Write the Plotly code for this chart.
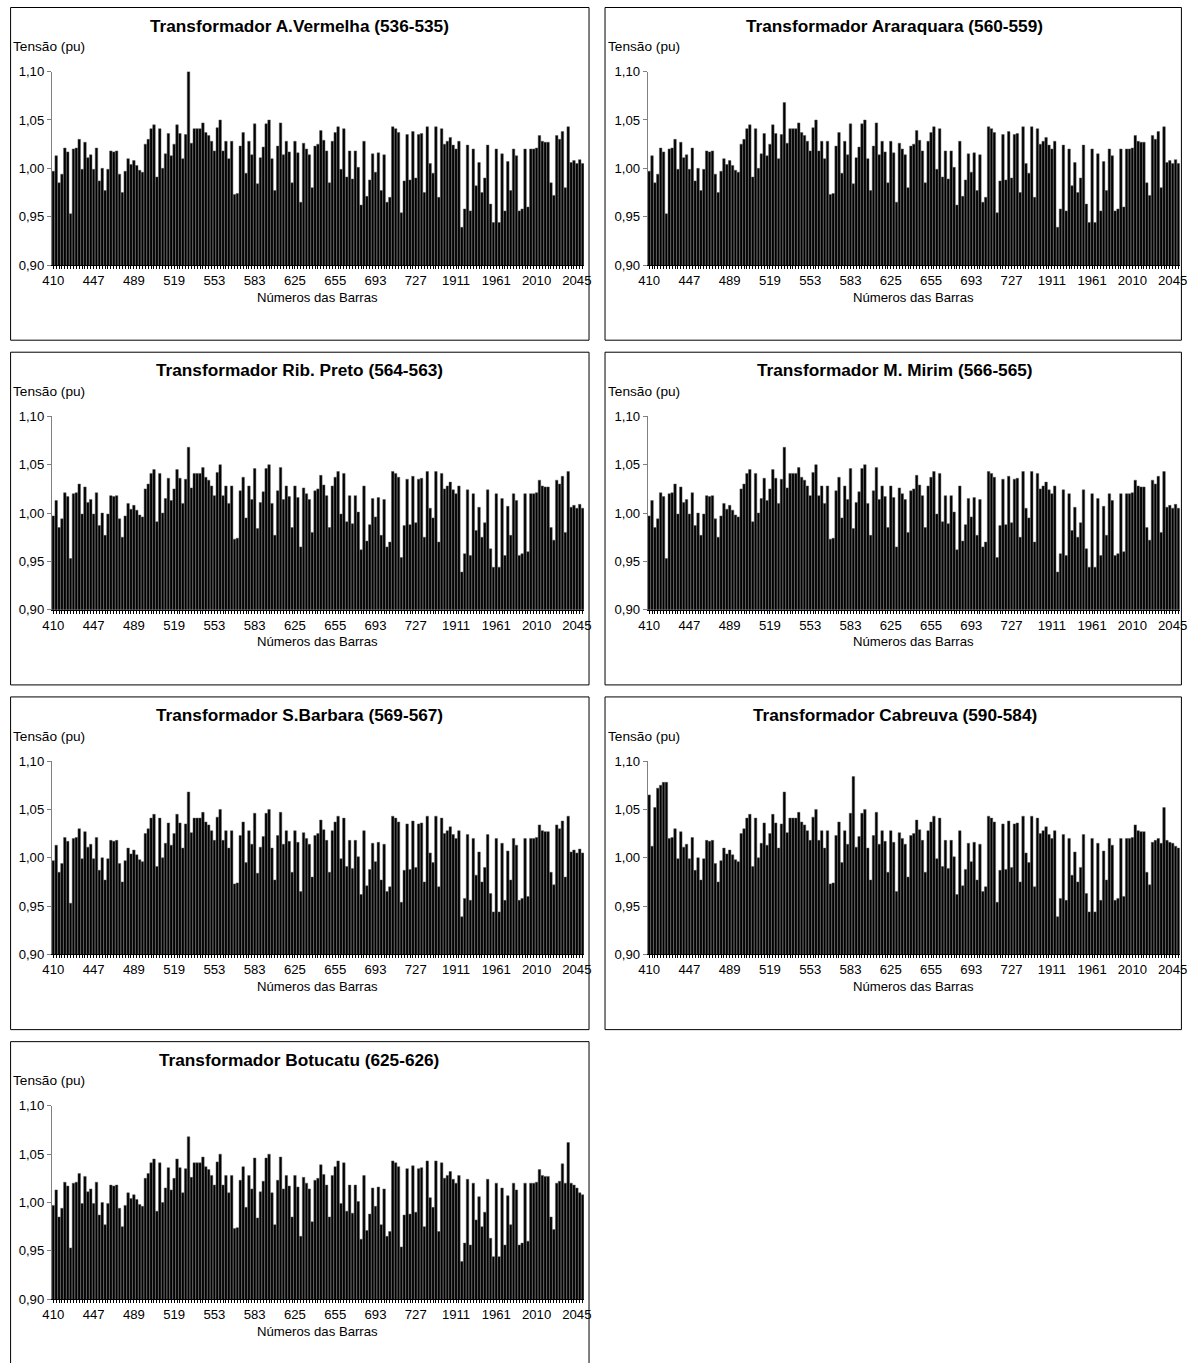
import plotly.graph_objects as go

# ---------------- data ----------------
titles = [
    "Transformador A.Vermelha (536-535)",
    "Transformador Araraquara (560-559)",
    "Transformador Rib. Preto (564-563)",
    "Transformador M. Mirim (566-565)",
    "Transformador S.Barbara (569-567)",
    "Transformador Cabreuva (590-584)",
    "Transformador Botucatu (625-626)",
]

tick_labels = ["410", "447", "489", "519", "553", "583", "625", "655",
               "693", "727", "1911", "1961", "2010", "2045"]
label_step = 14  # one label every 14 bars

y_ticks = [0.90, 0.95, 1.00, 1.05, 1.10]

# common voltage profile (pu)
base_profile = [
    0.997, 1.013, 0.985, 0.994, 1.021, 1.017, 0.953, 1.020, 1.021, 1.030,
    0.999, 1.027, 1.011, 1.014, 0.999, 1.021, 0.987, 1.000, 0.977, 0.999,
    1.018, 1.017, 1.018, 0.994, 0.975, 0.997, 1.010, 1.004, 1.008, 1.003,
    0.998, 0.996, 1.025, 1.030, 1.041, 1.045, 0.991, 1.041, 1.000, 1.015,
    1.036, 1.013, 1.025, 1.045, 1.036, 1.010, 1.035, 1.068, 1.026, 1.041,
    1.041, 1.041, 1.047, 1.037, 1.034, 1.028, 1.018, 1.042, 1.050, 1.018,
    1.028,
    1.010, 1.028, 0.973, 0.974, 1.023, 1.037, 0.995, 1.028, 1.014, 1.046,
    0.984, 1.011, 1.022, 1.046, 1.050, 1.010, 0.977, 1.023, 1.047, 1.014,
    1.028, 1.017, 0.985, 1.028, 1.016, 0.965, 1.026, 1.020, 1.014, 0.980,
    1.023, 1.025, 1.039, 1.029, 1.018, 0.985, 1.028, 1.037, 1.043, 0.999,
    1.041, 0.991, 1.018, 0.989, 1.018, 1.001, 0.962, 1.028, 0.971, 0.988,
    1.015, 0.996, 1.016, 0.977, 1.014, 0.965, 0.970, 1.043, 1.041, 1.037,
    0.954,
    0.987, 1.035, 0.988, 1.038, 0.990, 1.035, 1.036, 0.975, 1.043, 1.005,
    0.995, 1.043, 0.970, 1.041, 1.025, 1.028, 1.032, 1.024, 1.020, 1.028,
    0.939, 0.958, 1.024, 0.956, 1.020, 0.982, 1.006, 0.975, 0.990, 1.024,
    0.963, 0.944, 1.020, 0.944, 1.015, 0.956, 1.007, 0.977, 1.020, 1.013,
    0.956, 0.958, 1.020, 0.960, 1.020, 1.020, 1.021, 1.034, 1.028, 1.027,
    1.027, 0.985, 0.972, 1.034, 1.030, 1.038, 0.980, 1.043, 1.006, 1.008,
    1.005, 1.009, 1.005,
]

# bars of each chart that differ from the common profile {bar index: pu}
changes_avermelha = {47: 1.101}
changes_araraquara = {}
changes_ribpreto = {}
changes_mmirim = {}
changes_sbarbara = {}
changes_cabreuva = {0: 1.065, 1: 1.012, 2: 1.052, 3: 1.072, 4: 1.075, 5: 1.078,
                    6: 1.078, 71: 1.084, 175: 1.016, 176: 1.018, 177: 1.020,
                    178: 1.015, 179: 1.052, 180: 1.018, 181: 1.016, 182: 1.015,
                    183: 1.012, 184: 1.010}
changes_botucatu = {175: 1.020, 176: 1.022, 177: 1.040, 178: 1.020, 179: 1.062,
                    180: 1.020, 181: 1.018, 182: 1.015, 183: 1.010, 184: 1.008}

panel_changes = [changes_avermelha, changes_araraquara, changes_ribpreto,
                 changes_mmirim, changes_sbarbara, changes_cabreuva,
                 changes_botucatu]

# ---------------- figure ----------------
W, H = 1189, 1371
FONT = "Liberation Sans, Arial, sans-serif"
# the captured page is framed slightly (offset + scale); positions below are
# given in target-image pixels and mapped back to figure pixels
OFFX, SCX = 8.8, 0.986
OFFY, SCY = 7.5, 0.987


def fx(x):
    return min(max(((x - OFFX) / SCX) / W, 0.6 / W), 1.0 - 0.6 / W)


def fy(y):
    return min(max(1 - ((y - OFFY) / SCY) / H, 0.0), 1.0)


def fs(s):
    return s / SCY


n = len(base_profile)
xs = list(range(n))
tickvals = xs
ticktext = [tick_labels[i // label_step] if (i % label_step == 0 and i // label_step < len(tick_labels)) else ""
            for i in xs]

fig = go.Figure()
shapes = []
annotations = []

for k, title in enumerate(titles):
    r, c = divmod(k, 2)
    bx0 = 8 + c * 596
    bx1 = bx0 + 580
    by0 = 8 + r * 344
    by1 = by0 + 332
    vals = list(base_profile)
    for idx, v in panel_changes[k].items():
        vals[idx] = v

    ax = "" if k == 0 else str(k + 1)
    fig.add_trace(go.Bar(
        x=xs, y=vals, xaxis="x" + ax, yaxis="y" + ax,
        marker=dict(color="#000000", line=dict(color="#5a5a5a", width=0.5)),
        showlegend=False,
    ))

    x0, x1 = bx0 + 42.7, bx0 + 575
    yt, yb = by0 + 64, by0 + 257
    fig.update_layout(**{
        "xaxis" + ax: dict(
            domain=[fx(x0), fx(x1)], anchor="y" + ax, range=[-0.5, n - 0.5],
            showline=True, linecolor="#000000", linewidth=1,
            ticks="outside", ticklen=3, tickcolor="#000000", tickwidth=1,
            tickmode="array", tickvals=tickvals, ticktext=ticktext,
            tickangle=0, showgrid=False, zeroline=False,
            tickfont=dict(family=FONT, size=fs(13), color="#000000"),
        ),
        "yaxis" + ax: dict(
            domain=[fy(yb), fy(yt)], anchor="x" + ax, range=[0.9, 1.1],
            showline=True, linecolor="#808080", linewidth=1,
            ticks="outside", ticklen=4, tickcolor="#808080",
            tickmode="array", tickvals=y_ticks, tickformat=".2f",
            showgrid=False, zeroline=False,
            tickfont=dict(family=FONT, size=fs(13), color="#000000"),
        ),
    })

    # panel frame (the bottom row runs off the page, so it has no bottom edge)
    X0, X1, Y0 = fx(bx0), fx(bx1), fy(by0)
    if fy(by1) > 0.0:
        shapes.append(dict(type="rect", xref="paper", yref="paper",
                           x0=X0, x1=X1, y0=fy(by1), y1=Y0,
                           line=dict(color="#000000", width=1)))
    else:
        shapes.append(dict(type="path", xref="paper", yref="paper",
                           path=f"M {X0},0 L {X0},{Y0} L {X1},{Y0} L {X1},0",
                           line=dict(color="#000000", width=1)))
    annotations.append(dict(text="<b>" + title + "</b>", xref="paper", yref="paper",
                            x=fx((bx0 + bx1) / 2), y=fy(by0 + 18),
                            showarrow=False, xanchor="center", yanchor="middle",
                            font=dict(family=FONT, size=fs(17), color="#000000")))
    annotations.append(dict(text="Tensão (pu)", xref="paper", yref="paper",
                            x=fx(bx0 + 1.0), y=fy(by0 + 39),
                            showarrow=False, xanchor="left", yanchor="middle",
                            font=dict(family=FONT, size=fs(13.5), color="#000000")))
    annotations.append(dict(text="Números das Barras", xref="paper", yref="paper",
                            x=fx((x0 + x1) / 2), y=fy(by0 + 289),
                            showarrow=False, xanchor="center", yanchor="middle",
                            font=dict(family=FONT, size=fs(13), color="#000000")))

fig.update_layout(
    width=W, height=H,
    margin=dict(l=0, r=0, t=0, b=0),
    paper_bgcolor="white", plot_bgcolor="white",
    separators=", ",
    bargap=0.12,
    shapes=shapes, annotations=annotations,
    font=dict(family=FONT, size=13, color="#000000"),
)

fig.write_html(
    "out.html",
    config={"displayModeBar": False},
    post_script="document.body.style.margin='0';document.body.style.overflow='hidden';",
)
